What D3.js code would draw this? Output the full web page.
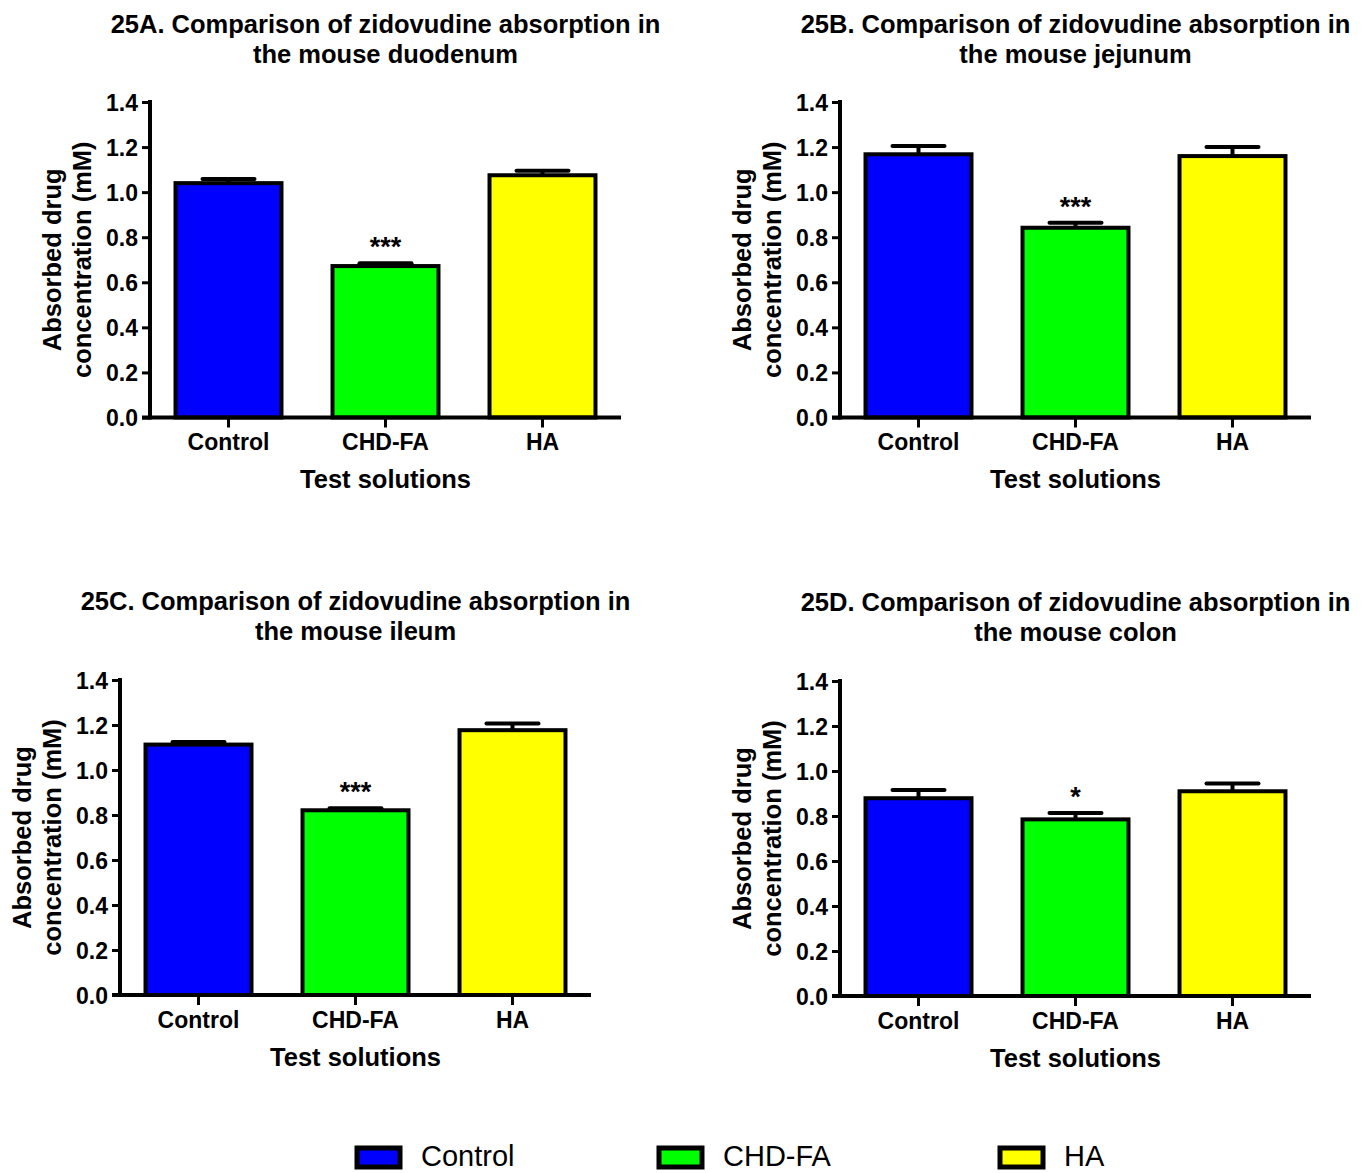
<!DOCTYPE html>
<html>
<head>
<meta charset="utf-8">
<script src="https://cdn.jsdelivr.net/npm/d3@7"></script>
<style>
  html, body { margin: 0; padding: 0; background: #fff; }
  svg { display: block; }
  text { font-family: "Liberation Sans", Arial, Helvetica, sans-serif; fill: #000; }
</style>
</head>
<body>
<svg id="chart" width="1369" height="1173"></svg>
<script>
// Test solutions compared in every intestinal segment
const categories = ["Control", "CHD-FA", "HA"];
const barColors = ["#0000ff", "#00ff00", "#ffff00"];

// Panel titles (two lines each)
const panelTitles = [
  ["25A. Comparison of zidovudine absorption in", "the mouse duodenum"],
  ["25B. Comparison of zidovudine absorption in", "the mouse jejunum"],
  ["25C. Comparison of zidovudine absorption in", "the mouse ileum"],
  ["25D. Comparison of zidovudine absorption in", "the mouse colon"]
];

// Mean absorbed drug concentration (mM) and SEM per segment
const duodenumMean = [1.04, 0.672, 1.075];
const duodenumSem  = [0.018, 0.012, 0.02];
const jejunumMean  = [1.168, 0.842, 1.16];
const jejunumSem   = [0.037, 0.022, 0.04];
const ileumMean    = [1.113, 0.821, 1.177];
const ileumSem     = [0.011, 0.009, 0.03];
const colonMean    = [0.879, 0.785, 0.91];
const colonSem     = [0.037, 0.028, 0.035];

// Significance markers versus control
const duodenumSig = ["", "***", ""];
const jejunumSig  = ["", "***", ""];
const ileumSig    = ["", "***", ""];
const colonSig    = ["", "*", ""];

// Axis text and ticks
const yTicks = [0, 0.2, 0.4, 0.6, 0.8, 1.0, 1.2, 1.4];
const yTitleLines = ["Absorbed drug", "concentration (mM)"];
const xTitle = "Test solutions";

const panels = [
  { mean: duodenumMean, sem: duodenumSem, sig: duodenumSig, title: panelTitles[0],
    left: 150, right: 621, y0: 417.5, yTop: 102, titleY: 33 },
  { mean: jejunumMean, sem: jejunumSem, sig: jejunumSig, title: panelTitles[1],
    left: 840, right: 1311, y0: 417.5, yTop: 102, titleY: 33 },
  { mean: ileumMean, sem: ileumSem, sig: ileumSig, title: panelTitles[2],
    left: 120, right: 591, y0: 995, yTop: 680, titleY: 610 },
  { mean: colonMean, sem: colonSem, sig: colonSig, title: panelTitles[3],
    left: 840, right: 1311, y0: 996, yTop: 681, titleY: 611 }
];

const svg = d3.select("#chart");
const lineW = 4;

panels.forEach(p => {
  const g = svg.append("g");
  const x = d3.scaleBand().domain(categories).range([p.left, p.right]).paddingInner(0.325).paddingOuter(0.1625);
  const y = d3.scaleLinear().domain([0, 1.4]).range([p.y0, p.yTop]);
  const rows = categories.map((c, i) => ({ c, i, m: p.mean[i], e: p.sem[i], s: p.sig[i] }));
  const cx = c => x(c) + x.bandwidth() / 2;

  // Error bars (upper half, drawn behind the bars)
  rows.forEach(d => {
    g.append("line")
      .attr("x1", cx(d.c)).attr("x2", cx(d.c))
      .attr("y1", y(d.m)).attr("y2", y(d.m + d.e))
      .attr("stroke", "#000").attr("stroke-width", lineW);
    g.append("line")
      .attr("x1", cx(d.c) - 26).attr("x2", cx(d.c) + 26)
      .attr("y1", y(d.m + d.e)).attr("y2", y(d.m + d.e))
      .attr("stroke", "#000").attr("stroke-width", lineW).attr("stroke-linecap", "round");
  });

  // Bars
  g.selectAll("rect.bar").data(rows).join("rect")
    .attr("class", "bar")
    .attr("x", d => x(d.c))
    .attr("width", x.bandwidth())
    .attr("y", d => y(d.m))
    .attr("height", d => y(0) - y(d.m))
    .attr("fill", d => barColors[d.i])
    .attr("stroke", "#000")
    .attr("stroke-width", lineW);

  // Significance stars
  g.selectAll("text.sig").data(rows.filter(d => d.s)).join("text")
    .attr("class", "sig")
    .attr("x", d => cx(d.c))
    .attr("y", d => y(d.m + d.e) - 7)
    .attr("text-anchor", "middle")
    .attr("font-size", 27).attr("font-weight", "bold")
    .text(d => d.s);

  // Y axis
  const yAxis = d3.axisLeft(y).tickValues(yTicks).tickFormat(d3.format(".1f")).tickSize(8).tickPadding(4);
  const ya = g.append("g").attr("transform", `translate(${p.left},0)`).call(yAxis);
  ya.select(".domain").remove();
  ya.selectAll(".tick line").attr("stroke", "#000").attr("stroke-width", 3);
  ya.selectAll(".tick text").attr("font-size", 23).attr("font-weight", "bold")
    .attr("font-family", "'Liberation Sans', Arial, sans-serif").attr("dy", "0.36em");
  g.append("line")
    .attr("x1", p.left).attr("x2", p.left)
    .attr("y1", p.yTop - 2).attr("y2", p.y0 + 2)
    .attr("stroke", "#000").attr("stroke-width", lineW);

  // X axis
  const xAxis = d3.axisBottom(x).tickSize(10).tickPadding(6);
  const xa = g.append("g").attr("transform", `translate(0,${p.y0})`).call(xAxis);
  xa.select(".domain").remove();
  xa.selectAll(".tick line").attr("stroke", "#000").attr("stroke-width", 3);
  xa.selectAll(".tick text").remove();
  g.append("line")
    .attr("x1", p.left - 8).attr("x2", p.right)
    .attr("y1", p.y0).attr("y2", p.y0)
    .attr("stroke", "#000").attr("stroke-width", lineW);
  g.selectAll("text.cat").data(categories).join("text")
    .attr("class", "cat")
    .attr("x", c => cx(c)).attr("y", p.y0 + 32.5)
    .attr("text-anchor", "middle")
    .attr("font-size", 23).attr("font-weight", "bold")
    .text(c => c);

  // Axis titles
  g.append("text")
    .attr("x", (p.left + p.right) / 2).attr("y", p.y0 + 70.5)
    .attr("text-anchor", "middle")
    .attr("font-size", 25.5).attr("font-weight", "bold")
    .text(xTitle);
  const ymid = (p.y0 + p.yTop) / 2;
  yTitleLines.forEach((t, k) => {
    const tx = p.left - 89 + k * 30;
    g.append("text")
      .attr("transform", `translate(${tx},${ymid}) rotate(-90)`)
      .attr("text-anchor", "middle")
      .attr("font-size", 25.5).attr("font-weight", "bold")
      .text(t);
  });

  // Panel title
  p.title.forEach((t, k) => {
    g.append("text")
      .attr("x", (p.left + p.right) / 2).attr("y", p.titleY + k * 30)
      .attr("text-anchor", "middle")
      .attr("font-size", 25.5).attr("font-weight", "bold")
      .text(t);
  });
});

// Shared legend
const legendX = [357, 659, 1000];
const legend = svg.append("g");
categories.forEach((c, i) => {
  legend.append("rect")
    .attr("x", legendX[i]).attr("y", 1148)
    .attr("width", 43).attr("height", 19)
    .attr("fill", barColors[i]).attr("stroke", "#000").attr("stroke-width", 5);
  legend.append("text")
    .attr("x", legendX[i] + 64).attr("y", 1166)
    .attr("font-size", 29)
    .text(c);
});
</script>
</body>
</html>
